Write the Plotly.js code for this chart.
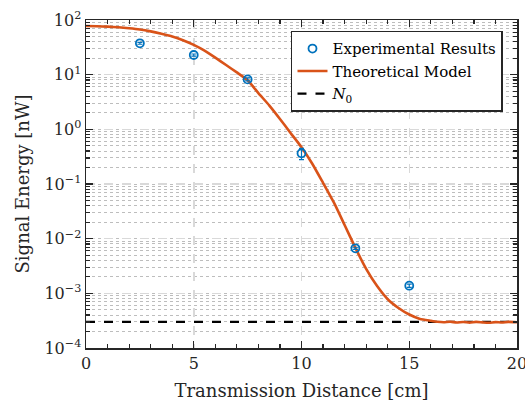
<!DOCTYPE html>
<html><head><meta charset="utf-8">
<script src="https://cdn.plot.ly/plotly-3.0.1.min.js"></script>
<style>body{margin:0;padding:0;background:#fff}#chart{width:525px;height:406px}</style>
</head><body><div id="chart"></div>
<script>
// Experimental results
const expX = [2.5, 5, 7.5, 10, 12.5, 15];
const expY = [37.5, 22.9, 8.2, 0.365, 0.00667, 0.00138];
const expErr = [1.5, 1.0, 0.5, 0.085, 0.0003, 0.0001];
// Theoretical model
const modelX = [0, 0.5, 1, 1.5, 2, 2.5, 3, 3.5, 4, 4.5, 5, 5.5, 6, 6.5, 7, 7.5, 8, 8.5, 9, 9.5, 10, 10.5, 11, 11.5, 12, 12.5, 13, 13.5, 14, 14.5, 15, 15.5, 16, 16.3, 16.6, 16.9, 17.2, 17.5, 17.8, 18.1, 18.4, 18.7, 19, 19.3, 19.6, 20];
const modelY = [77.6, 77, 75.5, 73.5, 70.5, 67, 62, 56, 50, 42.5, 35, 27.5, 20.5, 15, 11, 7.9, 4.6, 2.75, 1.55, 0.85, 0.47, 0.235, 0.105, 0.046, 0.0178, 0.0068, 0.0028, 0.00137, 0.00078, 0.00054, 0.00041, 0.00034, 0.000315, 0.000302, 0.000296, 0.000303, 0.000292, 0.000299, 0.000291, 0.000301, 0.000294, 0.000289, 0.000298, 0.000292, 0.0003, 0.000295];
// Noise floor
const n0X = [0, 20];
const n0Y = [0.0003, 0.0003];
const yTickVals = [1e-4, 1e-3, 1e-2, 1e-1, 1, 10, 100];
const yTickText = ['10<sup>−4</sup>', '10<sup>−3</sup>', '10<sup>−2</sup>', '10<sup>−1</sup>', '10<sup>0</sup>', '10<sup>1</sup>', '10<sup>2</sup>'];
const xTickVals = [0, 5, 10, 15, 20];

const font = 'DejaVu Serif';
const data = [
  {x: n0X, y: n0Y, mode: 'lines', type: 'scatter', name: '<i>N</i><sub>0</sub>',
   line: {color: '#000000', width: 2.2, dash: 'dash'}},
  {x: modelX, y: modelY, mode: 'lines', type: 'scatter', name: 'Theoretical Model',
   line: {color: '#D95319', width: 2.6, shape: 'spline', smoothing: 0.5}},
  {x: expX, y: expY, mode: 'markers', type: 'scatter', name: 'Experimental Results',
   marker: {symbol: 'circle-open', size: 8, color: '#0072BD', line: {width: 1.8, color: '#0072BD'}},
   error_y: {type: 'data', array: expErr, color: '#0072BD', thickness: 1.2, width: 2.5}}
];
const layout = {
  width: 525, height: 406,
  margin: {l: 86, r: 8, t: 20, b: 58},
  paper_bgcolor: '#fff', plot_bgcolor: '#fff',
  font: {family: font, size: 16, color: '#262626'},
  showlegend: true,
  legend: {traceorder: 'reversed', x: 0.9675, y: 0.967, xanchor: 'right', yanchor: 'top',
           bordercolor: '#262626', borderwidth: 1.5, bgcolor: '#fff',
           font: {family: font, size: 15, color: '#000'}, tracegroupgap: 0, itemwidth: 30},
  xaxis: {range: [0, 20], tickvals: xTickVals, ticklabeloverflow: 'allow',
          showline: true, linecolor: '#262626', linewidth: 1.5, mirror: 'allticks',
          ticks: 'inside', ticklen: 7, tickcolor: '#262626', tickwidth: 1.2,
          showgrid: true, gridcolor: '#d9d9d9', gridwidth: 1.5, griddash: 'dash', zeroline: false,
          tickfont: {family: font, size: 16},
          minor: {dtick: 1, ticks: 'inside', ticklen: 4, tickcolor: '#262626', showgrid: false},
          title: {text: 'Transmission Distance [cm]', font: {family: font, size: 18, color: '#262626'}, standoff: 12}},
  yaxis: {type: 'log', range: [-4, 2], tickvals: yTickVals, ticktext: yTickText,
          showline: true, linecolor: '#262626', linewidth: 1.5, mirror: 'allticks',
          ticks: 'inside', ticklen: 7, tickcolor: '#262626', tickwidth: 1.2,
          showgrid: true, gridcolor: '#d9d9d9', gridwidth: 1.5, griddash: 'dash', zeroline: false,
          tickfont: {family: font, size: 16},
          minor: {dtick: 'D1', ticks: 'inside', ticklen: 4, tickcolor: '#262626',
                  showgrid: true, gridcolor: '#bdbdbd', gridwidth: 1, griddash: 'dot'},
          title: {text: 'Signal Energy [nW]', font: {family: font, size: 18, color: '#262626'}, standoff: 10}}
};
Plotly.newPlot('chart', data, layout, {displayModeBar: false, staticPlot: true});
</script></body></html>
